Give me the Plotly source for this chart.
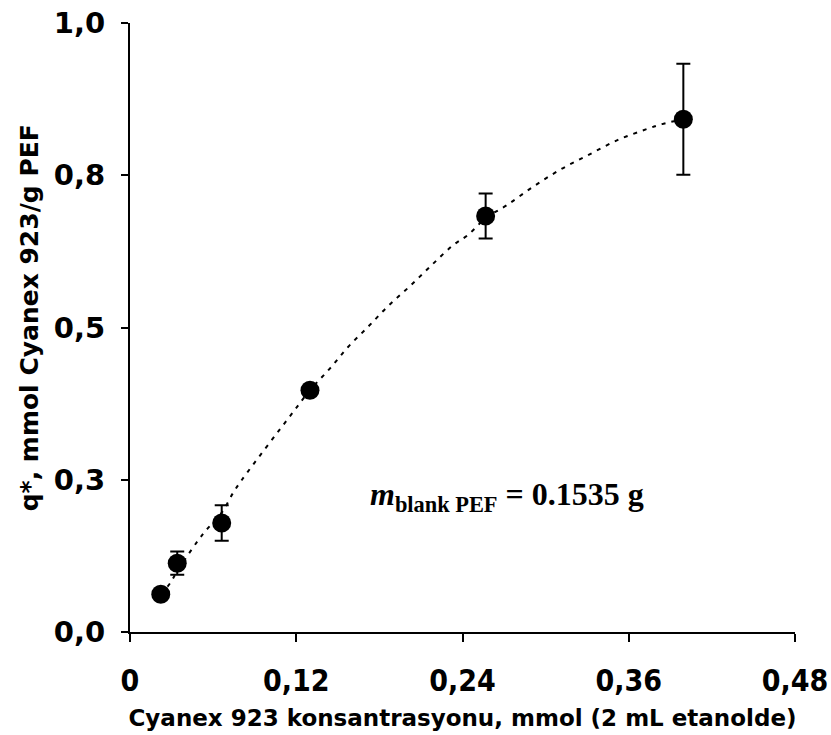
import plotly.graph_objects as go

# Data
conc = [0.0222, 0.0341, 0.0662, 0.1299, 0.2567, 0.3994]
q = [0.062, 0.113, 0.179, 0.397, 0.683, 0.842]
q_err = [0.0, 0.019, 0.029, 0.0, 0.037, 0.091]

trend_x = [0.0222, 0.0289, 0.0341, 0.0484, 0.0549, 0.0662, 0.0743, 0.0808, 0.1177, 0.1299,
           0.1444, 0.1574, 0.1718, 0.1862, 0.2021, 0.2180, 0.2331, 0.2440, 0.2570, 0.2721,
           0.2909, 0.3104, 0.3306, 0.3522, 0.3732, 0.3840, 0.3994]
trend_y = [0.062, 0.080, 0.100, 0.148, 0.167, 0.196, 0.228, 0.250, 0.361, 0.397,
           0.433, 0.468, 0.501, 0.535, 0.568, 0.603, 0.635, 0.652, 0.680, 0.701,
           0.731, 0.759, 0.783, 0.808, 0.826, 0.834, 0.842]

x_ticks = [0, 0.12, 0.24, 0.36, 0.48]
x_tick_text = ["0", "0,12", "0,24", "0,36", "0,48"]
y_ticks = [0, 0.25, 0.5, 0.75, 1.0]
y_tick_text = ["0,0", "0,3", "0,5", "0,8", "1,0"]

fig = go.Figure()
fig.add_trace(go.Scatter(x=trend_x, y=trend_y, mode="lines",
                         line=dict(color="black", width=2, dash="4px,6px"),
                         line_shape="spline", hoverinfo="skip", showlegend=False))
fig.add_trace(go.Scatter(x=conc, y=q, mode="markers",
                         marker=dict(color="black", size=19),
                         error_y=dict(type="data", array=q_err, visible=True,
                                      color="black", thickness=2, width=7),
                         showlegend=False))

fig.add_annotation(x=0.1718, y=0.222, xref="x", yref="y", xanchor="left", yanchor="middle",
                   text="<b><i>m</i></b><sub><b>blank PEF</b></sub><b> = 0.1535 g</b>",
                   showarrow=False,
                   font=dict(family="Liberation Serif", size=32, color="black"))

# y-axis title (rotated text placed as in the reference)
fig.add_annotation(x=-0.151, y=0.516, xref="paper", yref="paper",
                   xanchor="center", yanchor="middle", textangle=-90,
                   text="q*, mmol Cyanex 923/g PEF", showarrow=False,
                   font=dict(family="DejaVu Sans", size=25, color="black", weight="bold"))

fig.update_layout(
    width=831, height=735,
    margin=dict(l=130, r=36, t=23, b=103, autoexpand=False),
    plot_bgcolor="white", paper_bgcolor="white",
    xaxis=dict(range=[0, 0.48], tickvals=x_ticks, ticktext=x_tick_text,
               showgrid=False, zeroline=False, showline=True, linecolor="black", linewidth=2,
               ticks="outside", ticklen=8, tickwidth=2, tickcolor="black",
               ticklabelstandoff=13,
               tickfont=dict(family="DejaVu Sans Condensed", size=30, color="black", weight="bold"),
               title=dict(text="Cyanex 923 konsantrasyonu, mmol (2 mL etanolde)",
                          font=dict(family="DejaVu Sans", size=23, color="black", weight="bold"),
                          standoff=13)),
    yaxis=dict(range=[0, 1.0], tickvals=y_ticks, ticktext=y_tick_text,
               showgrid=False, zeroline=False, showline=True, linecolor="black", linewidth=2,
               ticks="outside", ticklen=7, tickwidth=2, tickcolor="black",
               ticklabelstandoff=10,
               tickfont=dict(family="DejaVu Sans", size=29, color="black", weight="bold")),
)

fig.write_html("out.html")
